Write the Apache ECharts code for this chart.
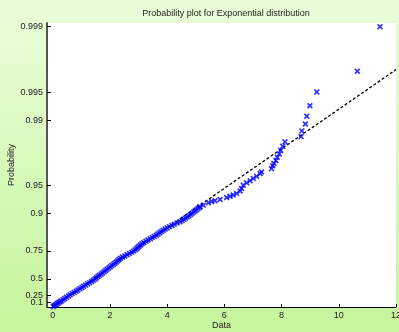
<!DOCTYPE html>
<html>
<head>
<meta charset="utf-8">
<script src="https://cdn.jsdelivr.net/npm/echarts@6/dist/echarts.min.js"></script>
<style>
html,body{margin:0;padding:0;}
#chart{width:399px;height:332px;}
</style>
</head>
<body>
<div id="chart"></div>
<script>
// Sorted sample values (Data) and their plotting positions on the exponential
// probability scale (score = -ln(1-p)).
const dataX = [
  0.02,0.05,0.09,0.13,0.17,0.21,0.26,0.30,0.36,0.42,0.48,0.55,0.61,0.68,0.75,0.82,0.88,0.95,1.02,1.08,
  1.15,1.22,1.29,1.36,1.42,1.48,1.53,1.58,1.63,1.69,1.74,1.80,1.85,1.90,1.96,2.01,2.06,2.12,2.17,2.22,
  2.27,2.32,2.37,2.44,2.52,2.60,2.68,2.76,2.83,2.89,2.94,2.98,3.02,3.07,3.12,3.18,3.26,3.33,3.41,3.48,
  3.55,3.62,3.68,3.74,3.80,3.86,3.93,4.00,4.08,4.17,4.25,4.35,4.45,4.52,4.58,4.64,4.70,4.76,4.82,4.87,
  4.93,4.98,5.03,5.08,5.13,
  5.15,5.26,5.44,5.56,5.67,5.85,6.08,6.20,6.31,6.43,6.55,6.60,6.66,6.78,6.90,7.01,7.13,7.25,7.30,
  7.65,7.69,7.73,7.80,7.85,7.92,7.97,8.04,8.12,
  8.68,8.71,8.83,8.88,8.99,9.23,10.65,11.44
];
const probScore = [
  0.01,0.03,0.05,0.07,0.09,0.11,0.13,0.15,0.18,0.21,0.24,0.27,0.30,0.33,0.36,0.39,0.42,0.45,0.48,0.51,
  0.54,0.57,0.60,0.63,0.66,0.69,0.72,0.75,0.78,0.81,0.84,0.87,0.90,0.93,0.96,0.99,1.02,1.05,1.08,1.11,
  1.14,1.17,1.20,1.23,1.26,1.29,1.32,1.35,1.38,1.41,1.44,1.47,1.50,1.53,1.56,1.59,1.62,1.65,1.68,1.71,
  1.74,1.77,1.80,1.83,1.86,1.89,1.92,1.95,1.98,2.01,2.04,2.07,2.10,2.13,2.16,2.19,2.22,2.25,2.28,2.31,
  2.34,2.37,2.40,2.43,2.46,
  2.47,2.51,2.57,2.60,2.62,2.65,2.70,2.73,2.76,2.80,2.86,2.92,3.00,3.06,3.11,3.17,3.22,3.29,3.33,
  3.41,3.48,3.54,3.61,3.69,3.77,3.86,3.96,4.07,
  4.20,4.34,4.51,4.70,4.96,5.30,5.81,6.91
];
// Reference (fitted) line end points: [Data, score]
const refLineX = [0, 12];
const refLineScore = [0, 5.85];
// Tick labels
const yTickProbs = [0.1, 0.25, 0.5, 0.75, 0.9, 0.95, 0.99, 0.995, 0.999];
const xTicks = [0, 2, 4, 6, 8, 10, 12];

const toScore = p => -Math.log(1 - p);
const yTickPos = yTickProbs.map(toScore);
// labels split over two axes so the closely spaced 0.1 / 0.25 labels both show
const yLabelPosA = yTickPos.filter((_, i) => i % 2 === 1);
const yLabelPosB = yTickPos.filter((_, i) => i % 2 === 0);

const points = dataX.map((x, i) => [x, probScore[i]]);
const refLine = refLineX.map((x, i) => [x, refLineScore[i]]);

const xMark = 'path://M0,2L2,0L5,3L8,0L10,2L7,5L10,8L8,10L5,7L2,10L0,8L3,5Z';
const FONT = 'Liberation Sans, Arial, sans-serif';
const probFormatter = function (v) {
  let best = 0, bd = Infinity;
  yTickPos.forEach((t, i) => { const d = Math.abs(t - v); if (d < bd) { bd = d; best = i; } });
  return String(yTickProbs[best]);
};
const yLabelStyle = {fontSize: 9, color: '#222', margin: 4, fontFamily: FONT, hideOverlap: false, formatter: probFormatter};

const chart = echarts.init(document.getElementById('chart'), null, {renderer: 'canvas'});
chart.setOption({
  animation: false,
  backgroundColor: {
    type: 'linear', x: 0, y: 0, x2: 0, y2: 1,
    colorStops: [{offset: 0, color: '#eafdda'}, {offset: 1, color: '#c6f59c'}]
  },
  title: {
    text: 'Probability plot for Exponential distribution',
    left: 221, top: 4, textAlign: 'center',
    textStyle: {fontSize: 9, fontWeight: 'normal', color: '#222', fontFamily: FONT}
  },
  grid: {left: 47, right: 3, top: 23, bottom: 25, show: true, backgroundColor: '#ffffff', borderWidth: 0,
         containLabel: false, outerBoundsMode: 'none'},
  xAxis: {
    type: 'value', min: -0.2, max: 12,
    name: 'Data', nameLocation: 'middle', nameGap: 14, nameMoveOverlap: false,
    nameTextStyle: {fontSize: 9, color: '#222', fontFamily: FONT},
    axisLine: {onZero: false, lineStyle: {color: '#000', width: 1}},
    axisTick: {show: true, inside: true, length: 3, customValues: xTicks, lineStyle: {color: '#000'}},
    axisLabel: {customValues: xTicks, hideOverlap: false, fontSize: 9, color: '#222', margin: 4, fontFamily: FONT},
    splitLine: {show: false}
  },
  yAxis: [
    {
      type: 'value', min: 0, max: 7.0, position: 'left',
      name: 'Probability', nameLocation: 'middle', nameGap: 31, nameRotate: 90, nameMoveOverlap: false,
      nameTextStyle: {fontSize: 9, color: '#222', fontFamily: FONT},
      axisLine: {show: true, onZero: false, lineStyle: {color: '#555', width: 2}},
      axisTick: {show: true, inside: true, length: 4, customValues: yTickPos, lineStyle: {color: '#000'}},
      axisLabel: Object.assign({customValues: yLabelPosA}, yLabelStyle),
      splitLine: {show: false}
    },
    {
      type: 'value', min: 0, max: 7.0, position: 'left', offset: 0,
      axisLine: {show: false, onZero: false},
      axisTick: {show: false},
      axisLabel: Object.assign({customValues: yLabelPosB}, yLabelStyle),
      splitLine: {show: false}
    }
  ],
  series: [
    {
      type: 'line', data: refLine, symbol: 'none', z: 1,
      lineStyle: {color: '#000', width: 1.3, type: [3, 2]}
    },
    {
      type: 'scatter', data: points, symbol: xMark, symbolSize: 6, z: 2,
      itemStyle: {color: '#0000ff'}
    }
  ]
});
</script>
</body>
</html>
